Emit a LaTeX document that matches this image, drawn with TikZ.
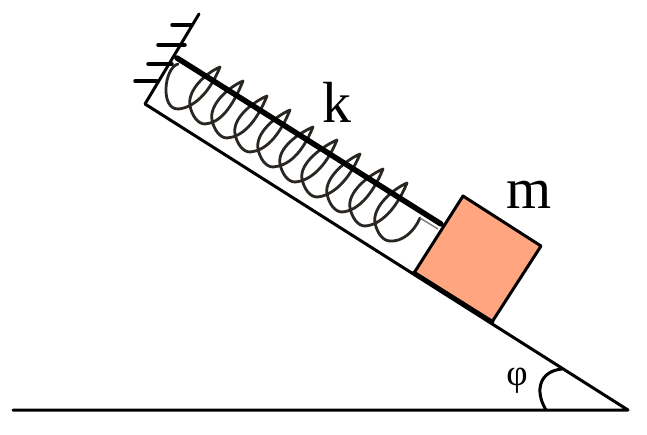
\documentclass[tikz,border=0pt]{standalone}
\usepackage{fontspec}
\setmainfont{Liberation Serif}
\definecolor{blockfill}{HTML}{FFA680}
\definecolor{coil}{HTML}{2A2622}
\tikzset{
  thinline/.style={line width=3pt,line cap=round,line join=round,black},
  rod/.style={line width=5.5pt,line cap=round,black},
  coilline/.style={line width=2.8pt,coil,line cap=round,line join=round},
  lab/.style={inner sep=0pt,font=\fontsize{58}{60}\selectfont},
}
\begin{document}
\begin{tikzpicture}[x=1pt,y=-1pt]
\useasboundingbox (0,0) rectangle (647,435);
\coordinate (apex) at (628,410);
\coordinate (groundL) at (13,410);
\coordinate (slopeTop) at (145,104);
\coordinate (wallTop) at (199,14);
\draw[thinline] (groundL) -- (apex) -- (slopeTop) -- (wallTop);
% wall hatching
\draw[thinline,line width=3.5pt] (172,25) -- (192,25) (158,45) -- (185,45) (148,64) -- (172,64) (135,81) -- (157,81);
% spring
\draw[coilline] (178,64) .. controls (164,68) and (160,109) .. (178,109);
\foreach \bx/\by/\px/\py/\nx/\ny in {
178/109/220/67/205/124,
205/124/243/81/227/138,
227/138/267/96/250/152,
250/152/290/110/273/167,
273/167/313/127/295/182,
295/182/337/140/317/197,
317/197/360/154/342/212,
342/212/383/169/365/226,
365/226/407/183/390/241}{
  \draw[coilline] (\bx,\by) .. controls (\bx+15,\by-1) and (\px-11,\py+27) .. (\px,\py)
     .. controls (\px-14,\py+6) and (\nx-18,\ny-34) .. (\nx-15,\ny-18)
     .. controls (\nx-13,\ny-8) and (\nx-7,\ny) .. (\nx,\ny);
}
\draw[coilline] (390,241) .. controls (402,242) and (414,232) .. (420,218);
\draw[line width=1.5pt,gray] (420,218) -- (438,229);
% rod
\draw[rod] (177,58) -- (441,224);
% block
\draw[thinline,fill=blockfill] (463,196) -- (541,246) -- (492,322) -- (414,273) -- cycle;
\draw[line width=4.5pt,line cap=round] (414,273) -- (492,322);
% angle
\draw[line width=3pt] (546,410) .. controls (534,390) and (540,371) .. (562,369);
\node[lab] (k) at (337,102) {k};
\node[lab] (m) at (529,195) {m};
\node[inner sep=0pt,font=\fontsize{37}{38}\selectfont] (phi) at (517,381) {φ};
\end{tikzpicture}
\end{document}
